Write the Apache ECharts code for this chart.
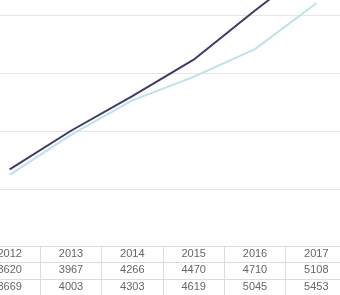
<!DOCTYPE html>
<html>
<head>
<meta charset="utf-8">
<script src="https://cdn.jsdelivr.net/npm/echarts@6/dist/echarts.min.js"></script>
<style>html,body{margin:0;padding:0;background:#fff;overflow:hidden;width:340px;height:295px;position:relative;}
#c{position:absolute;left:-21px;top:-42px;width:368px;height:337px;}</style>
</head>
<body>
<div id="c"></div>
<script>
var years = ['2012','2013','2014','2015','2016','2017'];
var seriesA = [3620, 3967, 4266, 4470, 4710, 5108];
var seriesB = [3669, 4003, 4303, 4619, 5045, 5453];
var yMin = 3000, yMax = 5500, yStep = 500;

var chart = echarts.init(document.getElementById('c'), null, {renderer: 'canvas'});
var labelStyle = {color: '#666', fontSize: 11, fontFamily: 'Liberation Sans, Arial, sans-serif', margin: 2, interval: 0};
function axis(data, offset, ticks) {
  return {
    type: 'category', position: 'bottom', offset: offset, data: data, boundaryGap: true,
    axisLine: {show: true, lineStyle: {color: '#dcdcdc', width: 1}},
    axisTick: {show: ticks, length: 49, interval: 0, lineStyle: {color: '#dcdcdc'}},
    axisLabel: labelStyle,
    splitLine: {show: false}
  };
}
chart.setOption({
  animation: false,
  backgroundColor: '#fff',
  grid: {left: 0, right: 0, top: 0, bottom: 48.5, containLabel: false},
  xAxis: [
    axis(years, 0, true),
    axis(seriesA.map(String), 16, false),
    axis(seriesB.map(String), 32.5, false)
  ],
  yAxis: {
    type: 'value', min: yMin, max: yMax, interval: yStep,
    axisLabel: {show: false}, axisLine: {show: false}, axisTick: {show: false},
    splitLine: {lineStyle: {color: '#e6e6e6'}}
  },
  series: [
    {type: 'line', data: seriesA, xAxisIndex: 0, symbol: 'none', lineStyle: {color: '#bde2e8', width: 2}, itemStyle: {color: '#bde2e8'}},
    {type: 'line', data: seriesB, xAxisIndex: 0, symbol: 'none', lineStyle: {color: '#3a3a70', width: 2}, itemStyle: {color: '#3a3a70'}}
  ]
});
</script>
</body>
</html>
